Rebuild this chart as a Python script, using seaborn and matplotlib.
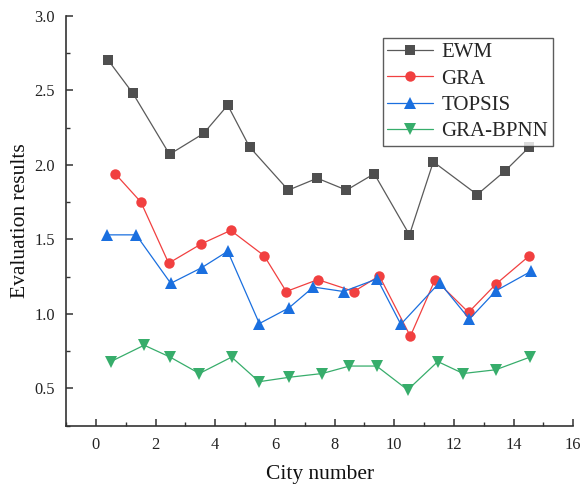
import matplotlib
matplotlib.use("Agg")
import matplotlib.pyplot as plt
from matplotlib.ticker import MultipleLocator
import seaborn as sns

sns.set_theme(style="white")
plt.rcParams['font.family'] = ['Liberation Serif', 'DejaVu Serif']

methods = ["EWM", "GRA", "TOPSIS", "GRA-BPNN"]

ewm_x = [0.42, 1.24, 2.47, 3.61, 4.42, 5.15, 6.45, 7.42, 8.40, 9.33, 10.51, 11.31, 12.78, 13.72, 14.53]
ewm_y = [2.70, 2.48, 2.07, 2.21, 2.40, 2.12, 1.83, 1.91, 1.83, 1.94, 1.53, 2.02, 1.80, 1.96, 2.12]

gra_x = [0.65, 1.51, 2.44, 3.54, 4.52, 5.64, 6.38, 7.44, 8.65, 9.50, 10.54, 11.37, 12.49, 13.41, 14.53]
gra_y = [1.94, 1.75, 1.34, 1.47, 1.56, 1.39, 1.15, 1.23, 1.15, 1.255, 0.85, 1.23, 1.01, 1.20, 1.39]

topsis_x = [0.39, 1.35, 2.51, 3.55, 4.42, 5.48, 6.47, 7.29, 8.30, 9.43, 10.22, 11.52, 12.52, 13.41, 14.58]
topsis_y = [1.53, 1.53, 1.205, 1.31, 1.42, 0.935, 1.04, 1.18, 1.15, 1.235, 0.93, 1.21, 0.965, 1.155, 1.285]

bpnn_x = [0.50, 1.62, 2.49, 3.47, 4.55, 5.47, 6.49, 7.59, 8.50, 9.41, 10.45, 11.46, 12.31, 13.40, 14.55]
bpnn_y = [0.68, 0.79, 0.71, 0.60, 0.71, 0.545, 0.575, 0.60, 0.65, 0.65, 0.49, 0.68, 0.60, 0.625, 0.71]

series = [
    (ewm_x, ewm_y, "EWM", "s", 6.5, "#4f4f4f", "#5a5a5a"),
    (gra_x, gra_y, "GRA", "o", 7.5, "#f14040", "#f14040"),
    (topsis_x, topsis_y, "TOPSIS", "^", 8.5, "#1a6fdf", "#1a6fdf"),
    (bpnn_x, bpnn_y, "GRA-BPNN", "v", 8.5, "#37ad6b", "#37ad6b"),
]

fig = plt.figure(figsize=(5.82, 4.88), dpi=100)
ax = fig.add_axes([0.1134, 0.1277, 0.8716, 0.8401])

for xs, ys, name, mk, ms, mcol, lcol in series:
    sns.lineplot(x=xs, y=ys, ax=ax, label=name, color=lcol, marker=mk,
                 markersize=ms, markerfacecolor=mcol, markeredgecolor=mcol,
                 markeredgewidth=0, linewidth=0.9, sort=False, estimator=None)

ax.set_xlim(-1, 16)
ax.set_ylim(0.25, 3.0)
ax.xaxis.set_major_locator(MultipleLocator(2))
ax.xaxis.set_minor_locator(MultipleLocator(1))
ax.yaxis.set_major_locator(MultipleLocator(0.5))
ax.yaxis.set_minor_locator(MultipleLocator(0.25))
ax.set_yticks([0.5, 1.0, 1.5, 2.0, 2.5, 3.0])
ax.set_yticklabels(["0.5", "1.0", "1.5", "2.0", "2.5", "3.0"])

for s in ["top", "right"]:
    ax.spines[s].set_visible(False)
for s in ["left", "bottom"]:
    ax.spines[s].set_color("#333333")
    ax.spines[s].set_linewidth(1.2)

ax.tick_params(which="major", direction="in", length=5, width=1.1, color="#333333",
               labelsize=11.8, labelcolor="#222222", pad=8, left=True, bottom=True)
ax.tick_params(which="minor", direction="in", length=3, width=1.0, color="#333333",
               left=True, bottom=True)

ax.set_xlabel("City number", fontsize=15.5, color="#111111", labelpad=9)
ax.set_ylabel("Evaluation results", fontsize=15.5, color="#111111", labelpad=3)
ax.grid(False)

leg = ax.legend(loc="upper right", bbox_to_anchor=(0.9594, 0.9449), borderaxespad=0,
                fontsize=15, fancybox=False, frameon=True, handlelength=2.2,
                handletextpad=0.4, labelspacing=0.32, borderpad=0.22)
leg.get_frame().set_edgecolor("#333333")
leg.get_frame().set_linewidth(1.0)

fig.savefig("out.png", dpi=100)
